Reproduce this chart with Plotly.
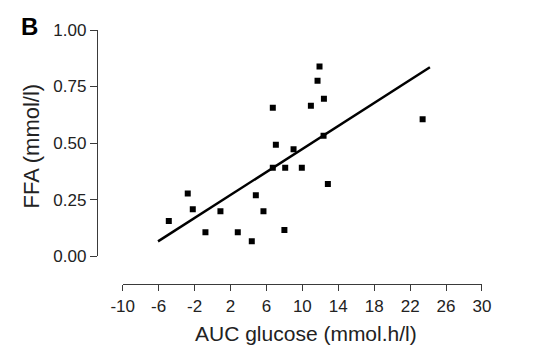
import plotly.graph_objects as go

# Data
auc_glucose = [-4.87, -2.76, -2.2, -0.79, 0.88, 2.81, 4.37, 4.82, 5.67, 6.71, 7.05, 6.71,
               8.09, 8.0, 9.02, 9.94, 10.95, 11.69, 11.91, 12.4, 12.36, 12.84, 23.39]
ffa = [0.155, 0.277, 0.207, 0.105, 0.198, 0.105, 0.065, 0.269, 0.198, 0.656, 0.492, 0.391,
       0.391, 0.115, 0.472, 0.391, 0.665, 0.776, 0.838, 0.696, 0.532, 0.319, 0.605]
fit_x = [-6.07, 24.2]
fit_y = [0.065, 0.835]

x_ticks = [-10, -6, -2, 2, 6, 10, 14, 18, 22, 26, 30]
x_ticklabels = ["-10", "-6", "-2", "2", "6", "10", "14", "18", "22", "26", "30"]
y_ticks = [0.0, 0.25, 0.5, 0.75, 1.0]
y_ticklabels = ["0.00", "0.25", "0.50", "0.75", "1.00"]

font_family = "Liberation Sans, Arial, sans-serif"
W, H = 533, 351
l, r, t, b = 97, 51, 30, 67
pw, ph = W - l - r, H - t - b


def px_to_paper(xp, yp):
    return (xp - l) / pw, (H - b - yp) / ph


fig = go.Figure()
fig.add_trace(go.Scatter(x=fit_x, y=fit_y, mode="lines",
                         line=dict(color="black", width=2.5), hoverinfo="skip"))
fig.add_trace(go.Scatter(x=auc_glucose, y=ffa, mode="markers",
                         marker=dict(symbol="square", size=6, color="black")))

axis_color = "#3a3a3a"
bx, by = px_to_paper(19, 26)
yx, yy = px_to_paper(31, 146.5)
xx, xy = px_to_paper(306, 333)

fig.update_layout(
    width=W, height=H,
    margin=dict(l=l, r=r, t=t, b=b),
    paper_bgcolor="white", plot_bgcolor="white",
    showlegend=False,
    font=dict(family=font_family, size=17, color="#222222"),
    xaxis=dict(range=[-10, 30], domain=[0.0668, 1], tickvals=x_ticks, ticktext=x_ticklabels,
               ticks="outside", ticklen=6, tickcolor=axis_color, tickwidth=1.4,
               showline=True, linecolor=axis_color, linewidth=1.4,
               showgrid=False, zeroline=False, anchor="free", position=0,
               tickfont=dict(size=17, color="#222222")),
    yaxis=dict(range=[0, 1], domain=[0.110, 1], tickvals=y_ticks, ticktext=y_ticklabels,
               ticks="outside", ticklen=7, tickcolor=axis_color, tickwidth=1.4,
               showline=True, linecolor=axis_color, linewidth=1.4,
               showgrid=False, zeroline=False, anchor="free", position=0,
               tickfont=dict(size=17, color="#222222")),
    annotations=[
        dict(text="<b>B</b>", x=bx, y=by, xref="paper", yref="paper",
             xanchor="left", yanchor="middle", showarrow=False,
             font=dict(size=24, color="black")),
        dict(text="FFA (mmol/l)", x=yx, y=yy, xref="paper", yref="paper",
             xanchor="center", yanchor="middle",
             showarrow=False, textangle=-90, font=dict(size=22, color="#222222")),
        dict(text="AUC glucose (mmol.h/l)", x=xx, y=xy, xref="paper", yref="paper",
             xanchor="center", yanchor="middle",
             showarrow=False, font=dict(size=21, color="#222222")),
    ],
)

fig.write_html("out.html")
